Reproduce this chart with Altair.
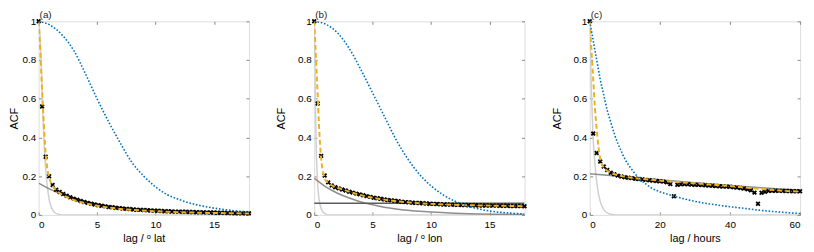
import altair as alt
import pandas as pd

# ---------------- panel (a) : lag / deg lat ----------------
a_blue_x = [0, 1, 2, 3, 4, 5, 6, 7, 8, 9, 10, 11, 12, 13, 14, 15, 16, 17, 18]
a_blue_y = [1, 0.98, 0.93, 0.85, 0.73, 0.6, 0.48, 0.37, 0.27, 0.2, 0.145, 0.105, 0.08, 0.06, 0.046, 0.035, 0.027, 0.02, 0.015]

a_orange_x = [0, 0.1, 0.2, 0.3, 0.4, 0.5, 0.6, 0.7, 0.8, 0.9, 1.0, 1.2, 1.5, 2, 2.5, 3, 4, 5, 6, 7, 8, 10, 12, 14, 16, 18]
a_orange_y = [1, 0.9, 0.77, 0.64, 0.52, 0.41, 0.32, 0.26, 0.22, 0.195, 0.175, 0.15, 0.127, 0.105, 0.09, 0.077, 0.06, 0.047, 0.038, 0.031, 0.026, 0.019, 0.014, 0.011, 0.009, 0.007]

a_mid_x = [0, 1, 2, 3, 4, 5, 6, 7, 8, 9, 10, 12, 14, 16, 18]
a_mid_y = [0.164, 0.132, 0.107, 0.087, 0.07, 0.057, 0.046, 0.037, 0.03, 0.024, 0.02, 0.013, 0.008, 0.005, 0.003]

a_light_x = [0, 0.1, 0.2, 0.3, 0.4, 0.5, 0.6, 0.7, 0.8, 0.9, 1.0, 1.2, 1.4, 1.7, 2, 18]
a_light_y = [1, 0.94, 0.82, 0.64, 0.46, 0.33, 0.24, 0.17, 0.12, 0.08, 0.055, 0.026, 0.011, 0.003, 0, 0]

a_obs_x = [0, 0.3, 0.6, 0.9, 1.2, 1.5, 1.8, 2.1, 2.4, 2.7, 3.0, 3.3, 3.6, 3.9, 4.2, 4.5, 4.8, 5.1, 5.4, 5.7,
           6.0, 6.3, 6.6, 6.9, 7.2, 7.5, 7.8, 8.1, 8.4, 8.7, 9.0, 9.3, 9.6, 9.9, 10.2, 10.5, 10.8, 11.1, 11.4, 11.7,
           12.0, 12.3, 12.6, 12.9, 13.2, 13.5, 13.8, 14.1, 14.4, 14.7, 15.0, 15.3, 15.6, 15.9, 16.2, 16.5, 16.8, 17.1, 17.4, 17.7, 18.0]
a_obs_y = [1, 0.56, 0.30, 0.20, 0.154, 0.13, 0.118, 0.108, 0.099, 0.091, 0.084, 0.078, 0.072, 0.067, 0.062, 0.058, 0.054, 0.05, 0.047, 0.044,
           0.041, 0.039, 0.037, 0.035, 0.033, 0.031, 0.03, 0.028, 0.027, 0.026, 0.025, 0.024, 0.023, 0.022, 0.021, 0.02, 0.019, 0.019, 0.018, 0.017,
           0.017, 0.016, 0.016, 0.015, 0.015, 0.014, 0.014, 0.013, 0.013, 0.012, 0.012, 0.011, 0.011, 0.011, 0.01, 0.01, 0.009, 0.009, 0.009, 0.008, 0.008]

# ---------------- panel (b) : lag / deg lon ----------------
b_blue_x = [0, 1, 2, 3, 4, 5, 6, 7, 8, 9, 10, 11, 12, 13, 14, 15, 16, 17, 18]
b_blue_y = [1, 0.985, 0.94, 0.86, 0.75, 0.63, 0.51, 0.39, 0.29, 0.21, 0.15, 0.105, 0.072, 0.048, 0.032, 0.02, 0.013, 0.008, 0.005]

b_orange_x = [0, 0.1, 0.2, 0.3, 0.4, 0.5, 0.6, 0.7, 0.8, 0.9, 1.0, 1.2, 1.5, 2, 2.5, 3, 4, 5, 6, 7, 8, 10, 12, 14, 16, 18]
b_orange_y = [1, 0.88, 0.75, 0.62, 0.48, 0.37, 0.29, 0.24, 0.21, 0.19, 0.178, 0.166, 0.153, 0.14, 0.13, 0.12, 0.102, 0.089, 0.079, 0.071, 0.065, 0.057, 0.052, 0.049, 0.047, 0.045]

b_mid_x = [0, 1, 2, 3, 4, 5, 6, 7, 8, 9, 10, 12, 14, 16, 18]
b_mid_y = [0.19, 0.145, 0.112, 0.087, 0.067, 0.052, 0.04, 0.031, 0.024, 0.019, 0.015, 0.009, 0.005, 0.003, 0.002]

b_dark_x = [0, 18]
b_dark_y = [0.06, 0.06]

b_light_x = [0, 0.05, 0.1, 0.15, 0.2, 0.3, 0.4, 0.5, 0.6, 0.8, 1.0, 1.2, 18]
b_light_y = [1, 0.85, 0.6, 0.42, 0.3, 0.16, 0.09, 0.055, 0.032, 0.012, 0.004, 0, 0]

b_obs_x = [0, 0.3, 0.6, 0.9, 1.2, 1.5, 1.8, 2.1, 2.4, 2.7, 3.0, 3.3, 3.6, 3.9, 4.2, 4.5, 4.8, 5.1, 5.4, 5.7,
           6.0, 6.3, 6.6, 6.9, 7.2, 7.5, 7.8, 8.1, 8.4, 8.7, 9.0, 9.3, 9.6, 9.9, 10.2, 10.5, 10.8, 11.1, 11.4, 11.7,
           12.0, 12.3, 12.6, 12.9, 13.2, 13.5, 13.8, 14.1, 14.4, 14.7, 15.0, 15.3, 15.6, 15.9, 16.2, 16.5, 16.8, 17.1, 17.4, 17.7, 18.0]
b_obs_y = [1, 0.575, 0.305, 0.204, 0.168, 0.152, 0.143, 0.137, 0.131, 0.126, 0.12, 0.115, 0.11, 0.106, 0.101, 0.097, 0.093, 0.089, 0.086, 0.083,
           0.08, 0.077, 0.075, 0.073, 0.07, 0.068, 0.066, 0.065, 0.063, 0.062, 0.061, 0.06, 0.059, 0.058, 0.057, 0.056, 0.055, 0.054, 0.054, 0.053,
           0.052, 0.052, 0.051, 0.051, 0.05, 0.05, 0.05, 0.049, 0.049, 0.049, 0.048, 0.048, 0.048, 0.047, 0.047, 0.047, 0.046, 0.046, 0.046, 0.046, 0.045]

# ---------------- panel (c) : lag / hours ----------------
c_blue_x = [0, 1, 2, 3, 4, 5, 6, 7, 8, 9, 10, 12, 14, 16, 18, 20, 24, 28, 32, 36, 40, 44, 48, 52, 56, 60]
c_blue_y = [1, 0.9, 0.8, 0.7, 0.62, 0.54, 0.48, 0.42, 0.37, 0.33, 0.29, 0.235, 0.19, 0.16, 0.135, 0.12, 0.097, 0.078, 0.063, 0.052, 0.042, 0.034, 0.025, 0.018, 0.012, 0.007]

c_orange_x = [0, 0.5, 1, 1.5, 2, 2.5, 3, 3.5, 4, 5, 6, 8, 10, 15, 20, 25, 30, 35, 40, 45, 50, 55, 60]
c_orange_y = [1, 0.85, 0.7, 0.55, 0.44, 0.35, 0.29, 0.26, 0.245, 0.228, 0.218, 0.205, 0.197, 0.186, 0.177, 0.17, 0.163, 0.156, 0.149, 0.14, 0.132, 0.125, 0.12]

c_mid_x = [0, 10, 20, 30, 40, 50, 60]
c_mid_y = [0.213, 0.197, 0.181, 0.166, 0.152, 0.139, 0.127]

c_light_x = [0, 0.25, 0.5, 0.75, 1, 1.5, 2, 2.5, 3, 4, 5, 6, 7, 8, 60]
c_light_y = [1, 0.8, 0.63, 0.5, 0.39, 0.26, 0.17, 0.11, 0.07, 0.028, 0.01, 0.003, 0.001, 0, 0]

c_obs_x = [0, 1, 2, 3, 4, 5, 6, 7, 8, 9, 10, 11, 12, 13, 14, 15, 16, 17, 18, 19, 20, 21, 22, 23, 24, 25, 26, 27, 28, 29, 30,
           31, 32, 33, 34, 35, 36, 37, 38, 39, 40, 41, 42, 43, 44, 45, 46, 47, 48, 49, 50, 51, 52, 53, 54, 55, 56, 57, 58, 59, 60]
c_obs_y = [1, 0.42, 0.32, 0.276, 0.25, 0.232, 0.218, 0.21, 0.203, 0.198, 0.195, 0.192, 0.19, 0.187, 0.185, 0.183, 0.181, 0.179, 0.177, 0.175, 0.174,
           0.172, 0.168, 0.16, 0.096, 0.156, 0.158, 0.159, 0.158, 0.157, 0.156, 0.155, 0.154, 0.153, 0.152, 0.151, 0.149, 0.148, 0.147, 0.146, 0.145,
           0.143, 0.141, 0.139, 0.136, 0.132, 0.127, 0.115, 0.058, 0.114, 0.12, 0.124, 0.125, 0.125, 0.124, 0.124, 0.123, 0.123, 0.122, 0.122, 0.122]

y_ticks = [0, 0.2, 0.4, 0.6, 0.8, 1]

FONT = "Liberation Sans"
TXT = "#262626"
W, H = 213, 196
X_MARK = "M-1,-1L1,1M-1,1L1,-1"


def df(xs, ys):
    return pd.DataFrame({"x": xs, "y": ys})


def panel(letter, xtitle, xdom, xvals, light, mid, dark, obs, orange, blue, ytp):
    xs = alt.Scale(domain=xdom, nice=False, zero=False)
    ys = alt.Scale(domain=[0, 1], nice=False)

    x_main = alt.Axis(orient="bottom", values=xvals, ticks=False, domain=False, grid=False,
                      labelPadding=5, title=xtitle, titlePadding=3, titleFontWeight="normal")
    y_main = alt.Axis(orient="left", values=y_ticks, format="~g", ticks=False, domain=False, grid=False,
                      labelPadding=3, title="ACF", titlePadding=ytp, titleFontWeight="normal")
    x_bt = alt.Axis(orient="bottom", values=xvals, offset=-3, tickSize=3, labels=False, domain=False,
                    grid=False, title=None)
    y_lt = alt.Axis(orient="left", values=y_ticks, offset=-3, tickSize=3, labels=False, domain=False,
                    grid=False, title=None)
    x_tt = alt.Axis(orient="top", values=xvals, offset=-3, tickSize=3, labels=False, domain=False,
                    grid=False, title=None)
    y_rt = alt.Axis(orient="right", values=y_ticks, offset=-3, tickSize=3, labels=False, domain=False,
                    grid=False, title=None)

    def line(d, color, width, xa=None, ya=None, dash=None):
        kw = dict(color=color, strokeWidth=width, interpolate="monotone", clip=True)
        if dash:
            kw["strokeDash"] = dash
        return alt.Chart(d).mark_line(**kw).encode(
            x=alt.X("x:Q", scale=xs, axis=xa),
            y=alt.Y("y:Q", scale=ys, axis=ya),
        )

    layers = [
        line(light, "#cfcfcf", 1.5, x_main, y_main),
        line(mid, "#8e8e8e", 1.5, x_bt, y_lt),
    ]
    if dark is not None:
        layers.append(line(dark, "#5c5c5c", 1.5, None, None))
    layers.append(
        alt.Chart(obs).mark_point(shape=X_MARK, filled=False, color="black", size=14, strokeWidth=1.8,
                                  opacity=1).encode(
            x=alt.X("x:Q", scale=xs, axis=x_tt),
            y=alt.Y("y:Q", scale=ys, axis=y_rt),
        )
    )
    layers.append(line(orange, "#EDB120", 2, None, None, dash=[5, 3]))
    layers.append(line(blue, "#0072BD", 1.6, None, None, dash=[1.6, 1.8]))
    layers.append(
        alt.Chart(pd.DataFrame({"label": [letter]})).mark_text(
            align="left", baseline="alphabetic", fontSize=10, font=FONT, color=TXT
        ).encode(text="label:N", x=alt.value(1), y=alt.value(-3))
    )

    return alt.layer(*layers).resolve_axis(x="independent", y="independent").properties(
        width=W, height=H,
    )


pa = panel("(a)", "lag / ᵒ lat", [0, 18], [0, 5, 10, 15],
           df(a_light_x, a_light_y), df(a_mid_x, a_mid_y), None, df(a_obs_x, a_obs_y),
           df(a_orange_x, a_orange_y), df(a_blue_x, a_blue_y), 2)
pb = panel("(b)", "lag / ᵒ lon", [0, 18], [0, 5, 10, 15],
           df(b_light_x, b_light_y), df(b_mid_x, b_mid_y), df(b_dark_x, b_dark_y), df(b_obs_x, b_obs_y),
           df(b_orange_x, b_orange_y), df(b_blue_x, b_blue_y), 11)
pc = panel("(c)", "lag / hours", [0, 60], [0, 20, 40, 60],
           df(c_light_x, c_light_y), df(c_mid_x, c_mid_y), None, df(c_obs_x, c_obs_y),
           df(c_orange_x, c_orange_y), df(c_blue_x, c_blue_y), 11)

chart = alt.hconcat(pa, pb, pc, spacing=66, bounds="flush").configure_view(
    stroke="#808080", strokeWidth=1
).configure_axis(
    labelFont=FONT, labelFontSize=10, labelColor=TXT, titleFont=FONT, titleFontSize=11,
    titleFontWeight="normal", titleColor=TXT, tickColor="#555555", tickWidth=0.8
).configure(padding=0, background="white")

chart.save("out.html", embed_options={"renderer": "svg", "actions": False})
